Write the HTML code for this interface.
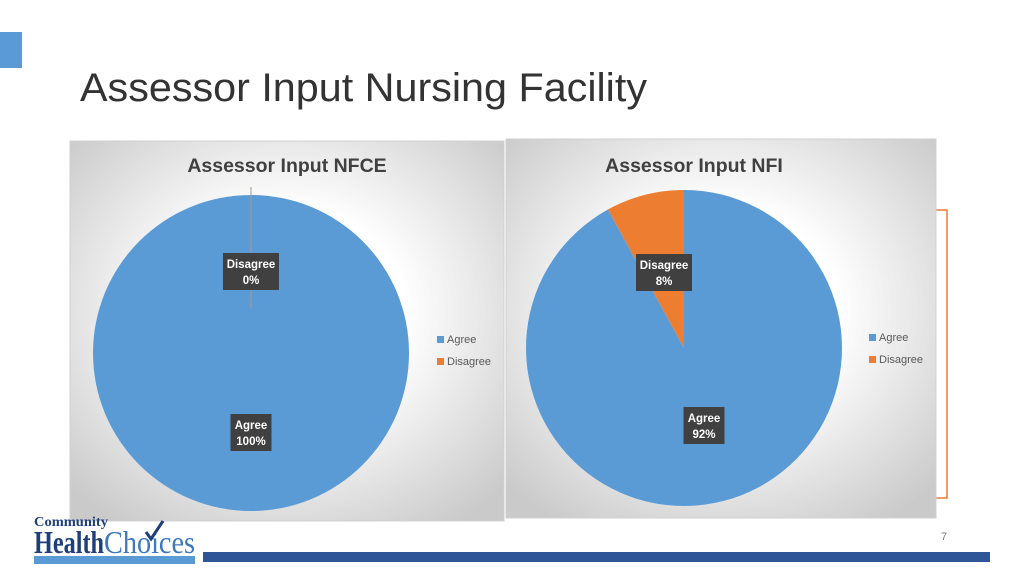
<!DOCTYPE html>
<html><head><meta charset="utf-8"><style>
html,body{margin:0;padding:0;background:#fff;width:1024px;height:576px;overflow:hidden;font-family:"Liberation Sans",sans-serif}
</style></head><body>
<svg id="s" width="1024" height="576" viewBox="0 0 1024 576" xmlns="http://www.w3.org/2000/svg">
<defs>
<radialGradient id="bg1" cx="50%" cy="45%" r="68%"><stop offset="0.4" stop-color="#ffffff"/><stop offset="1" stop-color="#cacaca"/></radialGradient>
</defs>
<rect x="0" y="32" width="22" height="36" fill="#5b9bd5"/>
<text x="80" y="101" font-size="40" fill="#333333" textLength="567" lengthAdjust="spacingAndGlyphs">Assessor Input Nursing Facility</text>
<path d="M935 210 H947 V498 H935" fill="none" stroke="#ed7d31" stroke-width="1.5"/>
<rect x="70" y="141" width="434" height="380" fill="url(#bg1)" stroke="#d0d0d0"/>
<rect x="506" y="139" width="430" height="379" fill="url(#bg1)" stroke="#d0d0d0"/>
<g id="c1"></g><g id="c2"></g>
<g>
<text x="34" y="526" font-family="Liberation Serif" font-size="14" font-weight="bold" fill="#1f3f7a" textLength="74" lengthAdjust="spacingAndGlyphs">Community</text>
<text x="34" y="553" font-family="Liberation Serif" font-size="32" font-weight="bold" fill="#1f3f7a" textLength="70" lengthAdjust="spacingAndGlyphs">Health</text>
<text x="104" y="553" font-family="Liberation Serif" font-size="32" fill="#3a78c0" textLength="91" lengthAdjust="spacingAndGlyphs">Choices</text>
<path d="M146 532 l5 7 l12 -18" fill="none" stroke="#1f3f7a" stroke-width="3"/>
<rect x="34" y="556" width="161" height="8" fill="#5b9bd5"/>
</g>
<rect x="203" y="552" width="787" height="10" fill="#2e5597"/>
<text x="941" y="540" font-size="11" fill="#777">7</text>
</svg>
<script>
const categories = ["Agree","Disagree"];
const nfceValues = [100, 0];
const nfiValues = [92, 8];
const colors = ["#5b9bd5","#ed7d31"];
const NS="http://www.w3.org/2000/svg";
function mk(t,a,p){const e=document.createElementNS(NS,t);for(const k in a)e.setAttribute(k,a[k]);p.appendChild(e);return e;}
function pie(g,title,tx,vals,cx,cy,r,legX,legY,labelPos){
  const t=mk('text',{x:tx,y:172,'font-size':19.5,'font-weight':'bold',fill:'#404040','text-anchor':'middle'},g);
  t.textContent=title;
  
  
  const tot=vals.reduce((a,b)=>a+b,0);
  let start=0;
  for(let i=vals.length-1;i>=0;i--){
    const f=vals[i]/tot;
    let el;
    if(f>=0.9999){el=mk('circle',{cx:cx,cy:cy,r:r,fill:colors[i]},g);}
    else if(f<=0){el=mk('line',{x1:cx,y1:cy,x2:cx,y2:cy-r,stroke:'#c0a080','stroke-width':1},g);}
    else{
      const a0=-start*2*Math.PI, a1=-(start+f)*2*Math.PI;
      const x0=cx+r*Math.sin(a0),y0=cy-r*Math.cos(a0),x1=cx+r*Math.sin(a1),y1=cy-r*Math.cos(a1);
      el=mk('path',{d:`M${cx} ${cy} L${x0} ${y0} A${r} ${r} 0 ${f>0.5?1:0} 0 ${x1} ${y1} Z`,fill:colors[i]},g);
    }
    
    
    start+=f;
  }
  if(vals[1]===0){mk('line',{x1:cx,y1:cy-45,x2:cx,y2:cy-r-8,stroke:'#a89a8a','stroke-width':1},g);}
  categories.forEach((c,i)=>{
    const p=labelPos[i];
    const w=c.length>5?56:41;
    const lg=mk('g',{},g);
    
    
    mk('rect',{x:p[0]-w/2,y:p[1],width:w,height:37,fill:'#404040'},lg);
    const a=mk('text',{x:p[0],y:p[1]+15,'font-size':11.5,'font-weight':'bold',fill:'#fff','text-anchor':'middle'},lg);a.textContent=c;
    const b=mk('text',{x:p[0],y:p[1]+31,'font-size':11.5,'font-weight':'bold',fill:'#fff','text-anchor':'middle'},lg);b.textContent=Math.round(vals[i]/tot*100)+'%';
  });
  categories.forEach((c,i)=>{
    const lg=mk('g',{},g);
    
    
    mk('rect',{x:legX,y:legY+i*22-7,width:7,height:7,fill:colors[i]},lg);
    const t2=mk('text',{x:legX+10,y:legY+i*22,'font-size':11,fill:'#595959'},lg);t2.textContent=c;
  });
}
pie(document.getElementById('c1'),'Assessor Input NFCE',287,nfceValues,251,353,158,437,343,[[251,414],[251,253]]);
pie(document.getElementById('c2'),'Assessor Input NFI',694,nfiValues,684,348,158,869,341,[[704,407],[664,254]]);
</script>
</body></html>
